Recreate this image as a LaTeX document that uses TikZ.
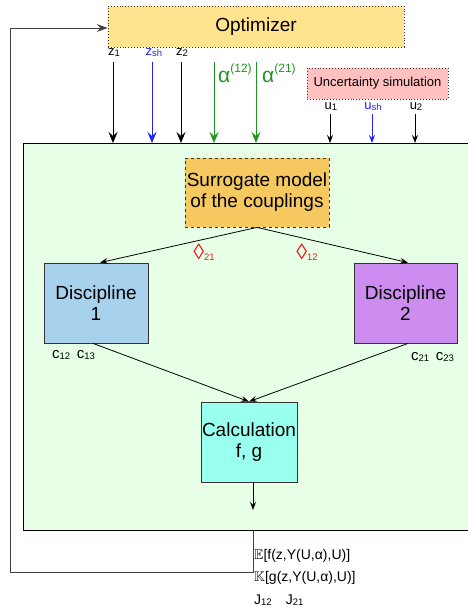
\documentclass[tikz,border=0pt]{standalone}
\usepackage{amssymb}
\usepackage{fontspec}
\setmainfont{Liberation Sans}
\usetikzlibrary{arrows.meta}
\newcommand\fsz[1]{\fontsize{#1}{#1}\selectfont}
\newcommand\lowsub[1]{\raisebox{-1pt}{\fsz{9.5}#1}}
\definecolor{optfill}{HTML}{FFE38F}
\definecolor{surfill}{HTML}{F5C860}
\definecolor{donefill}{HTML}{A7D1ED}
\definecolor{dtwofill}{HTML}{CC8CF0}
\definecolor{calcfill}{HTML}{99FFEE}
\definecolor{greenbg}{HTML}{E6FFE6}
\definecolor{uncfill}{HTML}{FFC0C0}
\definecolor{zblue}{HTML}{2222EE}
\definecolor{agreen}{HTML}{1E961E}
\definecolor{kred}{HTML}{E02020}
\tikzset{
  big/.style={font=\fsz{19}, align=center, inner sep=0pt, text=black},
  block/.style={big, draw=black!80, line width=0.8pt},
  bigarr/.style={-{Stealth[length=11pt,width=9pt,inset=4pt]}, line width=0.8pt},
  smallarr/.style={-{Stealth[length=8pt,width=6pt,inset=3pt]}, line width=0.8pt},
  lbl/.style={inner sep=0pt, font=\fsz{13}},
}
\begin{document}
\begin{tikzpicture}[x=1pt,y=-1pt]
\useasboundingbox (0,0) rectangle (468,612);
% green frame
\node[fill=greenbg, minimum width=445pt, minimum height=387pt, anchor=north west, inner sep=0pt] (frame) at (23,143) {};
\draw[line width=0.8pt] (frame.north east) -- (frame.north west) -- (frame.south west) -- (frame.south east);

% optimizer
\node[big, fill=optfill, draw=black!80, dotted, line width=0.9pt, minimum width=296pt, minimum height=41pt] (opt) at (256,26.5) {Optimizer};
% uncertainty
\node[font=\fsz{13}, inner sep=0pt, fill=uncfill, draw=black!80, dotted, line width=0.9pt, minimum width=141pt, minimum height=31pt] (unc) at (377.5,83.5) {Uncertainty simulation};

% z labels
\node[lbl] (z1) at (114,53) {z\lowsub{1}};
\node[lbl, text=zblue] (zsh) at (154,53) {z\lowsub{sh}};
\node[lbl] (z2) at (182,53) {z\lowsub{2}};
\node[inner sep=0pt, font=\fsz{21}, text=agreen, anchor=west] (a12) at (218,73) {α\raisebox{10pt}{\fsz{12}(12)}};
\node[inner sep=0pt, font=\fsz{21}, text=agreen, anchor=west] (a21) at (262,73) {α\raisebox{10pt}{\fsz{12}(21)}};
\coordinate (z1s) at (113,62);
\coordinate (zshs) at (152,62);
\coordinate (z2s) at (181,62);
\coordinate (a12s) at (214,62);
\coordinate (a21s) at (256,62);
\draw[bigarr] (z1s) -- (z1s |- frame.north);
\draw[bigarr, draw=zblue] (zshs) -- (zshs |- frame.north);
\draw[bigarr] (z2s) -- (z2s |- frame.north);
\draw[bigarr, draw=agreen] (a12s) -- (a12s |- frame.north);
\draw[bigarr, draw=agreen] (a21s) -- (a21s |- frame.north);

% u labels
\node[lbl] (u1) at (331,107) {u\lowsub{1}};
\node[lbl, text=zblue] (ush) at (373,107) {u\lowsub{sh}};
\node[lbl] (u2) at (416,107) {u\lowsub{2}};
\coordinate (u1s) at (330,114);
\coordinate (ushs) at (372,114);
\coordinate (u2s) at (415,114);
\draw[smallarr] (u1s) -- (u1s |- frame.north);
\draw[smallarr, draw=zblue] (ushs) -- (ushs |- frame.north);
\draw[smallarr] (u2s) -- (u2s |- frame.north);

% surrogate
\node[big, fill=surfill, draw=black!80, dashed, line width=0.8pt, minimum width=144pt, minimum height=69pt] (sur) at (257,192.5) {Surrogate model\\[2pt]of the couplings};

% disciplines
\node[block, fill=donefill, minimum width=104pt, minimum height=80pt] (d1) at (96,303) {Discipline\\[2pt]1};
\node[block, fill=dtwofill, minimum width=103pt, minimum height=80pt] (d2) at (405.5,303) {Discipline\\[2pt]2};
\node[block, fill=calcfill, minimum width=96pt, minimum height=80pt] (calc) at (249,442) {Calculation\\[2pt]f, g};

\draw[smallarr] (sur.south) -- ([xshift=4pt]d1.north);
\draw[smallarr] (sur.south) -- ([xshift=2.5pt]d2.north);
\node[inner sep=0pt, font=\fsz{22}, text=kred] (k21) at (204,252) {◊\lowsub{21}};
\node[inner sep=0pt, font=\fsz{22}, text=kred] (k12) at (307,252) {◊\lowsub{12}};

\node[inner sep=0pt, font=\fsz{15}, anchor=west] (c1) at (52,355) {c\lowsub{12}\, c\lowsub{13}};
\node[inner sep=0pt, font=\fsz{15}, anchor=west] (c2) at (411,357) {c\lowsub{21}\, c\lowsub{23}};

\draw[smallarr] ([xshift=-3pt]d1.south) -- (calc.north);
\draw[smallarr] ([xshift=2.5pt]d2.south) -- (calc.north);
\coordinate (cs) at (253,482);
\coordinate (ce) at (253,510);
\draw[smallarr] (cs) -- (ce);

% feedback
\coordinate (fb0) at (253,530);
\coordinate (fb1) at (253,572);
\coordinate (fb2) at (10,572);
\coordinate (fb3) at (10,28);
\draw[line width=0.8pt, draw=black!75, -{Stealth[length=11pt,width=8pt,inset=4pt]}] (fb0) -- (fb1) -- (fb2) -- (fb3) -- (fb3 -| opt.west);

% outputs
\node[inner sep=0pt, font=\fsz{14}, anchor=west] (oE) at (254,556) {$\mathbb{E}$[f(z,Y(U,α),U)]};
\node[inner sep=0pt, font=\fsz{14}, anchor=west] (oK) at (254,578) {$\mathbb{K}$[g(z,Y(U,α),U)]};
\node[inner sep=0pt, font=\fsz{14}, anchor=west] (oJ) at (254,600) {J\lowsub{12}\quad J\lowsub{21}};
\end{tikzpicture}
\end{document}
